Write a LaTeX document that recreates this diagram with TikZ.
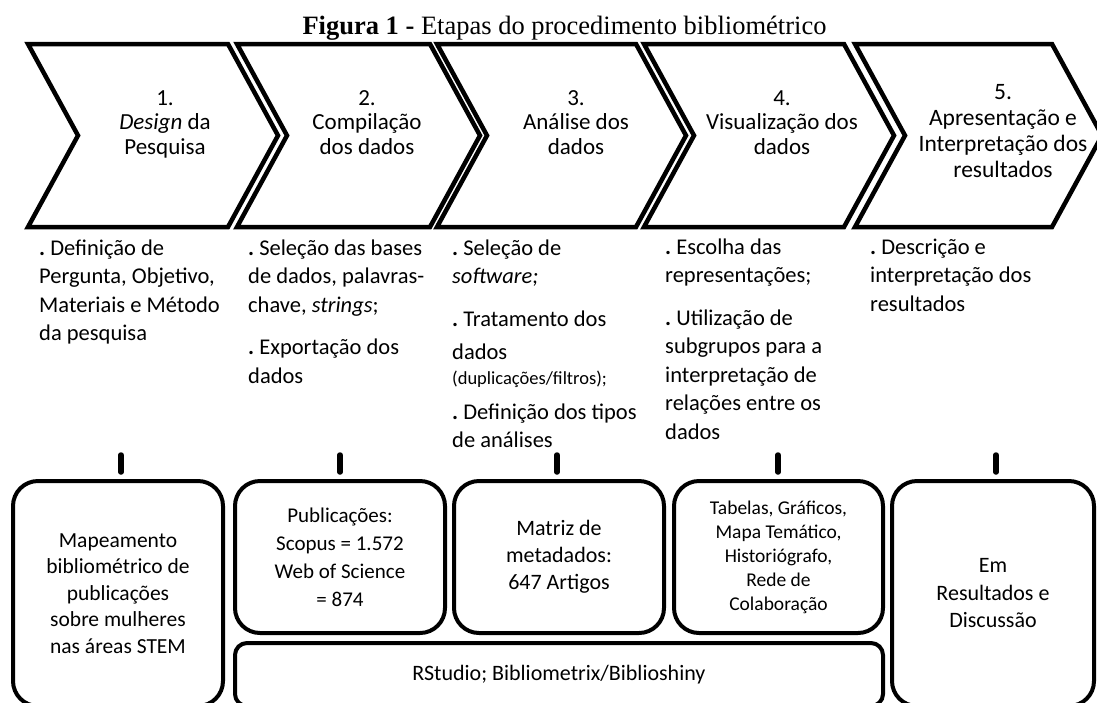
\documentclass[tikz,border=0pt]{standalone}
\usepackage{fontspec}
\setmainfont{Carlito}
\newfontfamily\titlefont{Liberation Serif}
\newcommand\stkc[1]{\vtop{\lineskiplimit=-\maxdimen\let\\\cr\halign{\hfil##\hfil\cr#1\crcr}}}
\newcommand\stkl[1]{\vtop{\lineskiplimit=-\maxdimen\let\\\cr\halign{##\hfil\cr#1\crcr}}}
\newcommand\gap[1]{\noalign{\vskip#1}}
\newcommand\bdot{\textbf{.}\ }
\tikzset{
  chev/.style={draw, line width=4.5pt},
  rbox/.style={draw, line width=4pt, rounded corners=25pt, inner sep=0pt},
  tickmark/.style={line width=5.5pt, line cap=round},
  ctext/.style={anchor=base, inner sep=0pt, font=\fontsize{23}{24.5}\selectfont},
  btext/.style={anchor=base west, inner sep=0pt, font=\fontsize{22.5}{28.5}\selectfont},
}
\begin{document}
\begin{tikzpicture}[x=1pt,y=-1pt]
\useasboundingbox (0,0) rectangle (1097,702);
% title
\node[anchor=base, inner sep=0pt, font=\titlefont\fontsize{26.5}{30}\selectfont] (title) at (564.5,34)
  {\textbf{Figura 1 -} Etapas do procedimento bibliométrico};
% chevrons
\foreach \l/\r in {28/228, 237/430, 437/636, 644/844, 855/1052}
  \draw[chev] (\l,44) -- (\r,44) -- (\r+50,135.5) -- (\r,227) -- (\l,227) -- (\l+50,135.5) -- cycle;
\node[ctext] (s1) at (165,105) {\stkc{1.\\\textit{Design} da\\Pesquisa}};
\node[ctext] (s2) at (367,105) {\stkc{2.\\Compilação\\dos dados}};
\node[ctext] (s3) at (576,105) {\stkc{3.\\Análise dos\\dados}};
\node[ctext] (s4) at (782,105) {\stkc{4.\\Visualização dos\\dados}};
\node[ctext, font=\fontsize{23.5}{26}\selectfont] (s5) at (1003,99) {\stkc{5.\\Apresentação e\\Interpretação dos\\resultados}};
% bullet texts
\node[btext] (d1) at (39,255) {\stkl{\bdot Definição de\\Pergunta, Objetivo,\\Materiais e Método\\da pesquisa}};
\node[btext] (d2) at (248,255) {\stkl{\bdot Seleção das bases\\de dados, palavras-\\chave, \textit{strings};\\\gap{14pt}\bdot Exportação dos\\dados}};
\node[btext] (d3) at (452,255) {\stkl{\bdot Seleção de\\\textit{software;}\\\gap{14pt}\bdot Tratamento dos\\\gap{4.5pt}dados\\\gap{-3.5pt}{\fontsize{18.5}{20}\selectfont(duplicações/filtros);}\\\gap{6.5pt}\bdot Definição dos tipos\\de análises}};
\node[btext] (d4) at (665,254) {\stkl{\bdot Escolha das\\representações;\\\gap{14pt}\bdot Utilização de\\subgrupos para a\\interpretação de\\relações entre os\\dados}};
\node[btext] (d5) at (870,254) {\stkl{\bdot Descrição e\\interpretação dos\\resultados}};
% ticks
\foreach \x/\n in {121/1,340/2,557/3,778/4,996/5}{
  \coordinate (ta\n) at (\x,455);
  \coordinate (tb\n) at (\x,472);
  \draw[tickmark] (ta\n) -- (tb\n);
}
% bottom boxes
\node[rbox, minimum width=210pt, minimum height=225pt, font=\fontsize{21.5}{26.5}\selectfont] (b1) at (118,593.5)
  {\stkc{Mapeamento\\bibliométrico de\\publicações\\sobre mulheres\\nas áreas STEM}};
\node[rbox, minimum width=210pt, minimum height=152pt, font=\fontsize{21}{28}\selectfont] (b2) at (340,557)
  {\stkc{Publicações:\\Scopus = 1.572\\Web of Science\\= 874}};
\node[rbox, minimum width=210pt, minimum height=152pt, font=\fontsize{22}{27}\selectfont] (b3) at (559,557)
  {\stkc{Matriz de\\metadados:\\647 Artigos}};
\node[rbox, minimum width=209pt, minimum height=152pt, font=\fontsize{19.5}{24}\selectfont] (b4) at (778.5,557)
  {\stkc{Tabelas, Gráficos,\\Mapa Temático,\\Historiógrafo,\\Rede de\\Colaboração}};
\node[rbox, minimum width=202pt, minimum height=225pt, font=\fontsize{22}{27.5}\selectfont] (b5) at (993,593.5)
  {\stkc{Em\\Resultados e\\Discussão}};
\node[rbox, rounded corners=12pt, minimum width=648pt, minimum height=63pt, font=\fontsize{22}{27}\selectfont] (b6) at (559,674.5)
  {RStudio; Bibliometrix/Biblioshiny};
\end{tikzpicture}
\end{document}
